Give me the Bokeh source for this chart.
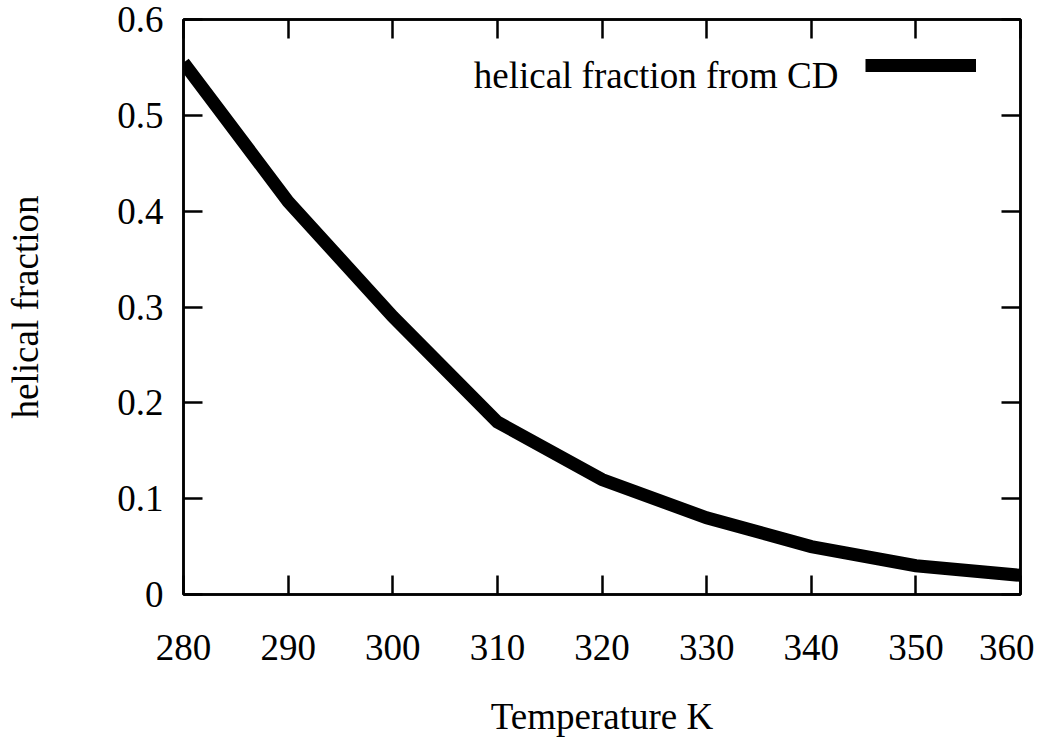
from bokeh.plotting import figure
from bokeh.models import (LinearAxis, Range1d, Legend, LegendItem, Label,
                          FixedTicker, CustomJSTickFormatter)
from bokeh.embed import file_html
from bokeh.resources import INLINE

temperature = [280, 290, 300, 310, 320, 330, 340, 350, 360]
helical_fraction = [0.555, 0.41, 0.29, 0.18, 0.12, 0.08, 0.05, 0.03, 0.02]
x_ticks = [280, 290, 300, 310, 320, 330, 340, 350, 360]
y_ticks = [0, 0.1, 0.2, 0.3, 0.4, 0.5, 0.6]
series_label = "helical fraction from CD"
x_title = "Temperature K"
y_title = "helical fraction"

FONT = "Liberation Serif"
FS = "37px"

p = figure(width=1034, height=739, output_backend="svg", toolbar_location=None,
           x_range=Range1d(280, 360), y_range=Range1d(0, 0.6),
           min_border_left=183, min_border_right=14, min_border_top=19,
           min_border_bottom=144)
p.grid.visible = False
p.outline_line_color = "black"
p.outline_line_width = 2.5
p.background_fill_color = "white"
p.border_fill_color = "white"

r = p.line(temperature, helical_fraction, line_color="black", line_width=13,
           line_join="miter", line_cap="butt")

def style(ax, labels=True):
    ax.axis_line_color = "black"
    ax.axis_line_width = 2.5
    ax.major_tick_line_color = "black"
    ax.major_tick_line_width = 2.5
    ax.major_tick_in = 19
    ax.major_tick_out = 0
    ax.minor_tick_line_color = None
    ax.major_label_text_font = FONT
    ax.major_label_text_font_size = FS
    ax.major_label_text_color = "black"
    ax.axis_label_text_font = FONT
    ax.axis_label_text_font_size = FS
    ax.axis_label_text_font_style = "normal"
    ax.axis_label_text_color = "black"
    if not labels:
        ax.formatter = CustomJSTickFormatter(code="return '';")
        ax.major_label_standoff = 0

xa = p.xaxis[0]
xa.ticker = FixedTicker(ticks=x_ticks)
style(xa)
xa.major_label_standoff = 40
xa.axis_label = x_title
xa.axis_label_standoff = 33

ya = p.yaxis[0]
ya.ticker = FixedTicker(ticks=y_ticks)
style(ya)
ya.formatter = CustomJSTickFormatter(code="return tick == 0 ? '0' : tick.toFixed(1);")
ya.major_label_standoff = 20
ya.axis_label = y_title
ya.axis_label_standoff = 68

top = LinearAxis(ticker=FixedTicker(ticks=x_ticks))
style(top, labels=False)
p.add_layout(top, "above")

right = LinearAxis(ticker=FixedTicker(ticks=y_ticks))
style(right, labels=False)
p.add_layout(right, "right")

legend = Legend(items=[LegendItem(label=" ", renderers=[r])],
                location=(682, 522), padding=0, margin=0, spacing=0,
                glyph_width=111, glyph_height=14, label_height=14,
                label_standoff=0, label_text_font_size="8px",
                border_line_color=None, background_fill_alpha=0)
p.add_layout(legend)

p.add_layout(Label(x=342.6, y=0.5417, text=series_label, text_align="right",
                   text_baseline="alphabetic", text_font=FONT,
                   text_font_size=FS, text_color="black"))

open("out.html", "w").write(file_html(p, INLINE))
